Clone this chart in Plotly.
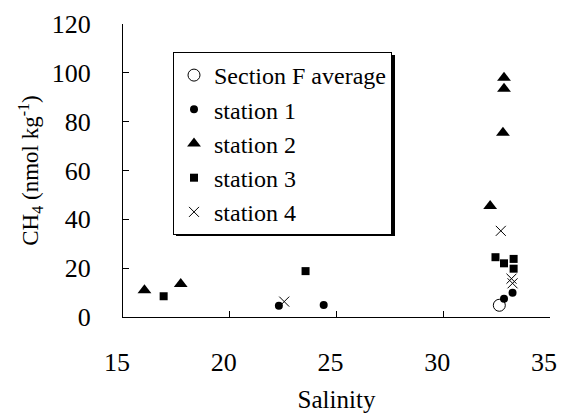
import plotly.graph_objects as go

# Data
avg_x = [32.63]
avg_y = [4.8]

st1_x = [22.3, 24.4, 32.85, 33.25]
st1_y = [4.6, 4.9, 7.5, 9.9]

st2_x = [16.0, 17.7, 32.2, 32.8, 32.85, 32.85]
st2_y = [11.0, 13.5, 45.5, 75.5, 93.5, 98.0]

st3_x = [16.9, 23.55, 32.45, 32.85, 33.3, 33.3]
st3_y = [8.5, 18.8, 24.5, 22.0, 23.8, 19.8]

st4_x = [22.55, 25.7, 32.7, 33.2, 33.25]
st4_y = [6.3, 36.3, 35.3, 15.7, 13.8]

x_ticks = [15, 20, 25, 30, 35]
y_ticks = [0, 20, 40, 60, 80, 100, 120]

FONT = "Liberation Serif, Times New Roman, serif"

W, H = 561, 414
ML, MR, MT, MB = 123, 11, 24, 97
PW, PH = W - ML - MR, H - MT - MB


def px2paper_x(px):
    return (px - ML) / PW


def py2paper_y(py):
    return (H - MB - py) / PH


fig = go.Figure()
fig.add_trace(go.Scatter(x=avg_x, y=avg_y, mode="markers", name="Section F average",
                         marker=dict(symbol="circle-open", size=12, color="black", line=dict(width=1))))
fig.add_trace(go.Scatter(x=st1_x, y=st1_y, mode="markers", name="station 1",
                         marker=dict(symbol="circle", size=8, color="black")))
fig.add_trace(go.Scatter(x=st2_x, y=st2_y, mode="markers", name="station 2",
                         marker=dict(symbol="triangle-up", size=12, color="black")))
fig.add_trace(go.Scatter(x=st3_x, y=st3_y, mode="markers", name="station 3",
                         marker=dict(symbol="square", size=8, color="black")))
fig.add_trace(go.Scatter(x=st4_x, y=st4_y, mode="markers", name="station 4",
                         marker=dict(symbol="x-thin", size=10, color="black",
                                     line=dict(width=1, color="black"))))

# legend drop shadow (offset dark rectangle behind the legend box)
fig.add_shape(type="rect", xref="paper", yref="paper",
              x0=px2paper_x(176), x1=px2paper_x(395),
              y0=py2paper_y(236), y1=py2paper_y(55),
              fillcolor="black", line=dict(width=0), layer="above")

fig.update_layout(
    width=W, height=H,
    margin=dict(l=ML, r=MR, t=MT, b=MB, autoexpand=False),
    paper_bgcolor="white", plot_bgcolor="white",
    font=dict(family=FONT, size=25, color="black"),
    showlegend=True,
    legend=dict(x=px2paper_x(173), y=py2paper_y(52), xanchor="left", yanchor="top",
                bgcolor="white", bordercolor="black", borderwidth=1,
                font=dict(family=FONT, size=24), tracegroupgap=0,
                itemsizing="trace"),
    xaxis=dict(range=[14.995, 35.005], tickvals=x_ticks, ticks="inside",
               ticklen=6, tickcolor="black", showline=True, linecolor="black",
               linewidth=1, showgrid=False, zeroline=False, automargin=False,
               ticklabeloverflow="allow", ticklabelstandoff=22, ticklabelshift=-6,
               tickfont=dict(size=26, family=FONT),
               title=dict(text="Salinity", font=dict(size=25, family=FONT), standoff=14)),
    yaxis=dict(range=[0, 120.05], tickvals=y_ticks, ticks="inside",
               ticklen=6, tickcolor="black", showline=True, linecolor="black",
               linewidth=1, showgrid=False, zeroline=False, automargin=False,
               ticklabeloverflow="allow", ticklabelstandoff=26,
               tickfont=dict(size=26, family=FONT),
               title=dict(text="CH<sub>4</sub> (nmol kg<sup>-1</sup>)",
                          font=dict(size=23, family=FONT), standoff=6)),
)

fig.write_html("out.html")
